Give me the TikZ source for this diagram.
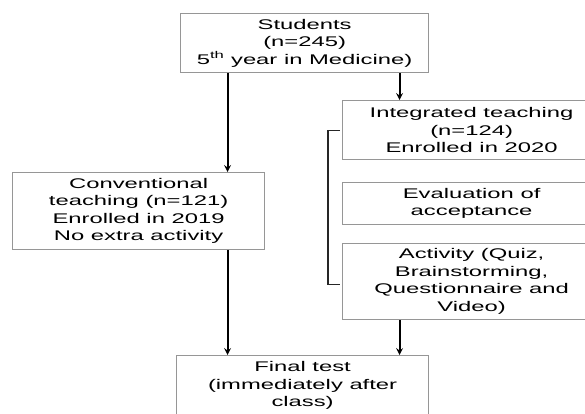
\documentclass[tikz,border=0pt]{standalone}
\usepackage{fontspec}
\setmainfont{Liberation Sans}[FakeStretch=1.7]
\usepackage{tikz}
\usetikzlibrary{arrows, positioning}
\definecolor{boxgray}{RGB}{150,150,150}
\tikzstyle{box} = [rectangle, draw=boxgray, line width=1.2pt, inner sep=0pt, align=center, font=\fontsize{14}{17.5}\selectfont]
\tikzstyle{arrow} = [line width=2pt,->,>=stealth]
\tikzstyle{bracket} = [line width=1.1pt, draw=black!85]

\begin{document}
\begin{tikzpicture}[x=1pt, y=-1pt]
                                \useasboundingbox (0,0) rectangle (585,413);
                                \clip (0,0) rectangle (585,413);
                                \node (students) [box, anchor=north west, minimum width=248pt, minimum height=59pt] at (180,13) {Students\\(n=245)\\5\textsuperscript{th} year in Medicine)};
                                \node (conv) [box, anchor=north west, minimum width=252pt, minimum height=77pt] at (12,172) {Conventional\\teaching (n=121)\\Enrolled in 2019\\No extra activity};
                                \node (integ) [box, anchor=north west, minimum width=258pt, minimum height=59pt] at (342,100) {Integrated teaching\\(n=124)\\Enrolled in 2020};
                                \node (eval) [box, anchor=north west, minimum width=258pt, minimum height=42pt] at (342,182) {Evaluation of\\acceptance};
                                \node (activity) [box, anchor=north west, minimum width=258pt, minimum height=76pt] at (342,243) {Activity (Quiz,\\Brainstorming,\\Questionnaire and\\Video)};
                                \node (final) [box, anchor=north west, minimum width=252pt, minimum height=60pt] at (176,355) {Final test\\(immediately after\\class)};
                                \draw [arrow] ([xshift=-77pt]students.south) -- ([xshift=-77pt]students.south |- conv.north);
                                \draw [arrow] ([xshift=95pt]students.south) -- ([xshift=95pt]students.south |- integ.north);
                                \draw [arrow] ([xshift=89pt]conv.south) -- ([xshift=89pt]conv.south |- final.north);
                                \draw [arrow] ([xshift=-72pt]activity.south) -- ([xshift=-72pt]activity.south |- final.north);
                                \draw [bracket] ([xshift=-2pt]integ.west) -| ([xshift=-14pt]eval.west) |- ([xshift=-2pt, yshift=-3pt]activity.west);
                            \end{tikzpicture}
\end{document}
